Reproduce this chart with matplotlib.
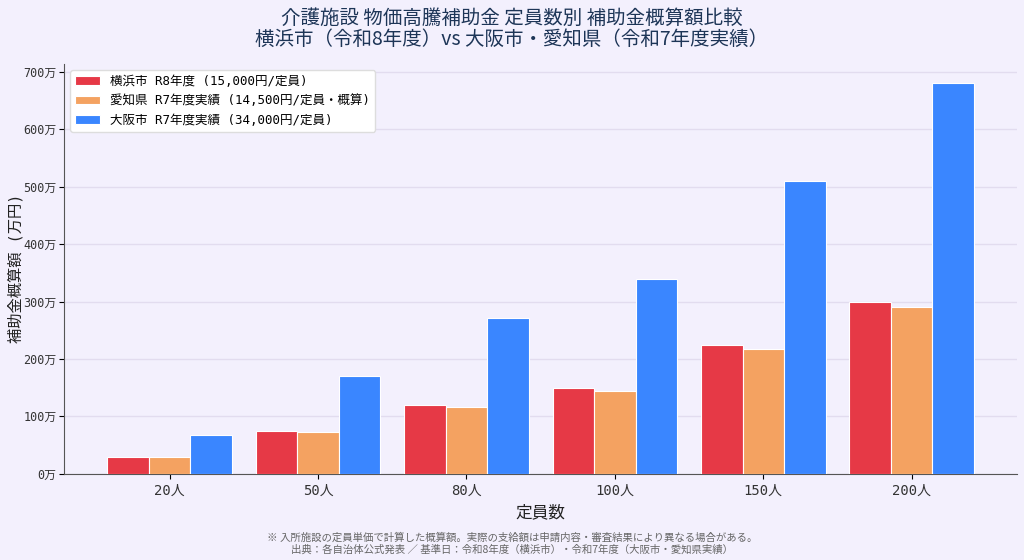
import numpy as np
import matplotlib.pyplot as plt

plt.rcParams['font.family'] = ['DejaVu Sans Mono', 'Noto Sans CJK JP']

capacity = ['20人', '50人', '80人', '100人', '150人', '200人']
yokohama = [30, 75, 120, 150, 225, 300]
aichi = [29, 72.5, 116, 145, 217.5, 290]
osaka = [68, 170, 272, 340, 510, 680]

labels = ['横浜市 R8年度 (15,000円/定員)',
          '愛知県 R7年度実績 (14,500円/定員・概算)',
          '大阪市 R7年度実績 (34,000円/定員)']
colors = ['#e63946', '#f4a261', '#3a86ff']

bg = '#f3f0fd'
fig = plt.figure(figsize=(10.24, 5.6), dpi=100, facecolor=bg)
ax = fig.add_axes([0.0625, 0.154, 0.931, 0.732], facecolor=bg)

x = np.arange(len(capacity))
w = 0.28
for i, (vals, lab, c) in enumerate(zip([yokohama, aichi, osaka], labels, colors)):
    ax.bar(x + (i - 1) * w, vals, w, color=c, edgecolor='white', linewidth=0.8,
           label=lab, zorder=3)

ax.set_xticks(x)
ax.set_xticklabels(capacity, fontsize=10, color='#333333')
yt = np.arange(0, 701, 100)
ax.set_yticks(yt)
ax.set_yticklabels([f'{v}万' for v in yt], fontsize=8.5, color='#333333')
ax.tick_params(axis='y', pad=2)
ax.grid(axis='y', color='#e2dcef', linewidth=1, zorder=0)
ax.spines['top'].set_visible(False)
ax.spines['right'].set_visible(False)
ax.spines['left'].set_color('#555555')
ax.spines['bottom'].set_color('#555555')

ax.set_xlabel('定員数', fontsize=12, color='#222222', labelpad=4)
ax.set_ylabel('補助金概算額 (万円)', fontsize=11, color='#222222')
ax.yaxis.set_label_coords(-0.042, 0.5)

fig.suptitle('介護施設 物価高騰補助金 定員数別 補助金概算額比較\n横浜市（令和8年度）vs 大阪市・愛知県（令和7年度実績）',
             fontsize=14, family=['Noto Sans CJK JP'], color='#1d3557', y=0.985,
             linespacing=1.0)

leg = ax.legend(loc='upper left', fontsize=9, frameon=True, facecolor='white',
                edgecolor='#dddddd', framealpha=1)

fig.text(0.5, 0.01,
         '※ 入所施設の定員単価で計算した概算額。実際の支給額は申請内容・審査結果により異なる場合がある。\n'
         '出典：各自治体公式発表 ／ 基準日：令和8年度（横浜市）・令和7年度（大阪市・愛知県実績）',
         ha='center', va='bottom', fontsize=7.5, family=['Noto Sans CJK JP'], color='#666666',
         linespacing=1.1)

fig.savefig('out.png', dpi=100, facecolor=bg)
